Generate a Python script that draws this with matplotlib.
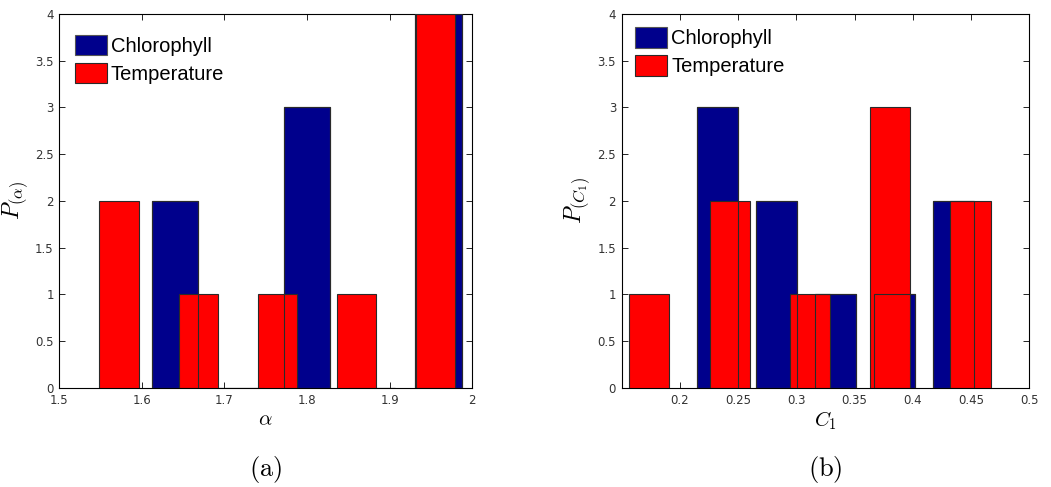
import matplotlib.pyplot as plt
import numpy as np

plt.rcParams['mathtext.fontset'] = 'cm'

# (a) histogram of alpha
alpha_chl_centers = [1.640, 1.7197, 1.7994, 1.879, 1.959]
alpha_chl_counts = [2, 0, 3, 0, 4]
alpha_tmp_centers = [1.5726, 1.6683, 1.7641, 1.860, 1.9552]
alpha_tmp_counts = [2, 1, 1, 1, 4]
alpha_xticks = [1.5, 1.6, 1.7, 1.8, 1.9, 2.0]

# (b) histogram of C1
c1_chl_centers = [0.2323, 0.2830, 0.3339, 0.3846, 0.4348]
c1_chl_counts = [3, 2, 1, 1, 2]
c1_tmp_centers = [0.1734, 0.2427, 0.3117, 0.3801, 0.4495]
c1_tmp_counts = [1, 2, 1, 3, 2]
c1_xticks = [0.2, 0.25, 0.3, 0.35, 0.4, 0.45, 0.5]

yticks = np.arange(0, 4.01, 0.5)

blue = '#00008C'
red = '#FF0000'
edge = '#2a2a2a'


def hist_panel(ax, chl_x, chl_y, tmp_x, tmp_y, xlim, xticks, xlabel, ylabel, caption, leg_anchor):
    chl_w = 0.7 * np.diff(chl_x).mean()
    tmp_w = 0.5 * np.diff(tmp_x).mean()
    ax.bar(chl_x, chl_y, width=chl_w, color=blue, edgecolor='#555555', linewidth=0.8,
           label='Chlorophyll', zorder=2)
    ax.bar(tmp_x, tmp_y, width=tmp_w, color=red, edgecolor=edge, linewidth=0.8,
           label='Temperature', zorder=3)
    # blue outlines show through the red bars
    ax.bar(chl_x, chl_y, width=chl_w, fill=False, edgecolor=edge, linewidth=0.8, zorder=4)

    ax.set_xlim(*xlim)
    ax.set_ylim(0, 4)
    ax.set_xticks(xticks)
    ax.set_xticklabels([f"{t:g}" for t in xticks])
    ax.set_yticks(yticks)
    ax.set_yticklabels([f"{t:g}" for t in yticks])
    ax.tick_params(direction='in', top=True, right=True, length=4, width=0.6,
                   labelsize=8.5, labelcolor='#333333', pad=4)
    for s in ax.spines.values():
        s.set_linewidth(0.8)
    ax.set_xlabel(xlabel, fontsize=15, labelpad=2)
    ax.set_ylabel(ylabel, fontsize=17, labelpad=4)
    ax.text(0.5, -0.219, caption, transform=ax.transAxes, ha='center', va='center', fontsize=19)

    ax.legend(loc='upper left', bbox_to_anchor=leg_anchor, frameon=False,
              prop={'family': 'Liberation Sans', 'size': 14.5},
              handlelength=1.6, handleheight=1.2, handletextpad=0.2,
              labelspacing=0.35, borderpad=0, borderaxespad=0)


fig = plt.figure(figsize=(10.51, 4.87), dpi=100)
ax1 = fig.add_axes([0.0564, 0.2033, 0.393, 0.768])
ax2 = fig.add_axes([0.5915, 0.2033, 0.3878, 0.768])

hist_panel(ax1, alpha_chl_centers, alpha_chl_counts, alpha_tmp_centers, alpha_tmp_counts,
           (1.5, 2.0), alpha_xticks, r'$\alpha$', r'$P_{(\alpha)}$', r'$\mathrm{(a)}$',
           (0.037, 0.945))
hist_panel(ax2, c1_chl_centers, c1_chl_counts, c1_tmp_centers, c1_tmp_counts,
           (0.15, 0.5), c1_xticks, r'$C_1$', r'$P_{(C_1)}$', r'$\mathrm{(b)}$',
           (0.033, 0.965))

fig.savefig('out.png', dpi=100)
